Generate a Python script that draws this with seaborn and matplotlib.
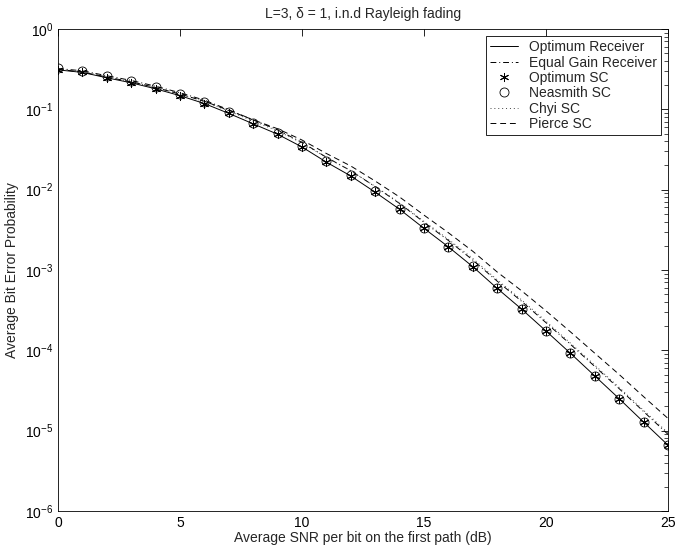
import matplotlib
matplotlib.use("Agg")
import matplotlib.pyplot as plt
import seaborn as sns
import pandas as pd
from matplotlib.ticker import LogLocator, NullFormatter, FixedLocator

snr_db = list(range(26))
optimum_receiver = [0.31, 0.288, 0.247, 0.214, 0.18, 0.148, 0.118, 0.089, 0.066, 0.049,
                    0.034, 0.022, 0.0148, 0.0093, 0.0057, 0.0033, 0.00194, 0.0011, 0.00059,
                    0.000326, 0.000174, 9.2e-5, 4.8e-5, 2.5e-5, 1.28e-5, 6.6e-6]
equal_gain = [0.322, 0.302, 0.262, 0.229, 0.194, 0.161, 0.13, 0.0988, 0.0739, 0.0554,
              0.0388, 0.0253, 0.0172, 0.0109, 0.00673, 0.00393, 0.00233, 0.00133, 0.000726,
              0.000408, 0.000221, 0.000119, 6.29e-5, 3.33e-5, 1.73e-5, 9.0e-6]
optimum_sc = [0.31, 0.288, 0.247, 0.214, 0.18, 0.148, 0.118, 0.089, 0.066, 0.049,
              0.034, 0.022, 0.0148, 0.0093, 0.0057, 0.0033, 0.00194, 0.0011, 0.00059,
              0.000326, 0.000174, 9.2e-5, 4.8e-5, 2.5e-5, 1.28e-5, 6.6e-6]
neasmith_sc = [0.325, 0.30, 0.258, 0.223, 0.187, 0.153, 0.122, 0.092, 0.068, 0.0505,
               0.035, 0.0226, 0.0151, 0.0095, 0.0058, 0.00335, 0.00196, 0.00111, 0.000595,
               0.000328, 0.000175, 9.25e-5, 4.82e-5, 2.51e-5, 1.285e-5, 6.62e-6]
chyi_sc = [0.316, 0.294, 0.254, 0.220, 0.187, 0.155, 0.125, 0.0952, 0.0713, 0.0539,
           0.0381, 0.0251, 0.0172, 0.011, 0.00684, 0.00403, 0.00241, 0.00139, 0.000755,
           0.000424, 0.00023, 0.000123, 6.53e-5, 3.45e-5, 1.79e-5, 9.4e-6]
pierce_sc = [0.315, 0.291, 0.252, 0.220, 0.187, 0.155, 0.126, 0.097, 0.074, 0.0573,
             0.0415, 0.0282, 0.0197, 0.0128, 0.0081, 0.00482, 0.00291, 0.00171, 0.000944,
             0.000551, 0.00031, 0.00017, 9.2e-5, 5.0e-5, 2.65e-5, 1.42e-5]

x_ticks = [0, 5, 10, 15, 20, 25]
title = "L=3, δ = 1, i.n.d Rayleigh fading"
xlabel = "Average SNR per bit on the first path (dB)"
ylabel = "Average Bit Error Probability"

sns.set_style("white")
plt.rcParams['font.family'] = ['Liberation Sans', 'DejaVu Sans']
plt.rcParams['mathtext.fontset'] = 'custom'
plt.rcParams['mathtext.rm'] = 'Liberation Sans'
plt.rcParams['mathtext.it'] = 'Liberation Sans:italic'

fig = plt.figure(figsize=(6.76, 5.51), dpi=100)
ax = fig.add_axes([58/676, 1-511/551, 610/676, 482/551])

df = pd.DataFrame({"snr": snr_db, "opt": optimum_receiver, "egc": equal_gain,
                   "osc": optimum_sc, "nsc": neasmith_sc, "chyi": chyi_sc, "pierce": pierce_sc})

lw = 0.7
sns.lineplot(data=df, x="snr", y="opt", ax=ax, color="black", lw=lw, label="Optimum Receiver")
sns.lineplot(data=df, x="snr", y="egc", ax=ax, color="black", lw=lw,
             label="Equal Gain Receiver", linestyle=(0, (6, 3, 1, 3)))
sns.lineplot(data=df, x="snr", y="osc", ax=ax, color="black", lw=0, marker=(6, 2, 0),
             markersize=6.5, markeredgewidth=0.7, markeredgecolor="black",
             label="Optimum SC")
sns.lineplot(data=df, x="snr", y="nsc", ax=ax, color="black", lw=0, marker="o",
             markersize=6.5, markerfacecolor="none", markeredgecolor="black",
             markeredgewidth=0.6, label="Neasmith SC")
sns.lineplot(data=df, x="snr", y="chyi", ax=ax, color="#444444", lw=lw,
             linestyle=(0, (1, 3)), label="Chyi SC")
sns.lineplot(data=df, x="snr", y="pierce", ax=ax, color="black", lw=lw,
             linestyle=(0, (6, 4)), label="Pierce SC")

ax.set_yscale("log")
ax.set_xlim(0, 25)
ax.set_ylim(1e-6, 1)
ax.xaxis.set_major_locator(FixedLocator(x_ticks))
ax.yaxis.set_major_locator(LogLocator(base=10, numticks=10))
ax.yaxis.set_minor_locator(LogLocator(base=10, subs=range(2, 10), numticks=20))
ax.yaxis.set_minor_formatter(NullFormatter())
ax.tick_params(axis="both", which="both", direction="in", top=True, right=True,
               labelsize=10, colors="black")
ax.tick_params(axis="both", which="major", length=5, width=0.6)
ax.tick_params(axis="y", which="minor", length=3, width=0.5)
for s in ax.spines.values():
    s.set_visible(True)
    s.set_color("black")
    s.set_linewidth(0.6)

ax.set_title(title, fontsize=10, pad=8)
ax.set_xlabel(xlabel, fontsize=10, labelpad=1)
ax.set_ylabel(ylabel, fontsize=10, labelpad=4)

leg = ax.legend(loc="upper right", fontsize=10, frameon=True, fancybox=False,
                framealpha=1, edgecolor="black", handlelength=2.0, labelspacing=0.1,
                borderpad=0.3, handletextpad=0.8, borderaxespad=0.5)
leg.get_frame().set_linewidth(0.6)

fig.savefig("out.png", dpi=100)
